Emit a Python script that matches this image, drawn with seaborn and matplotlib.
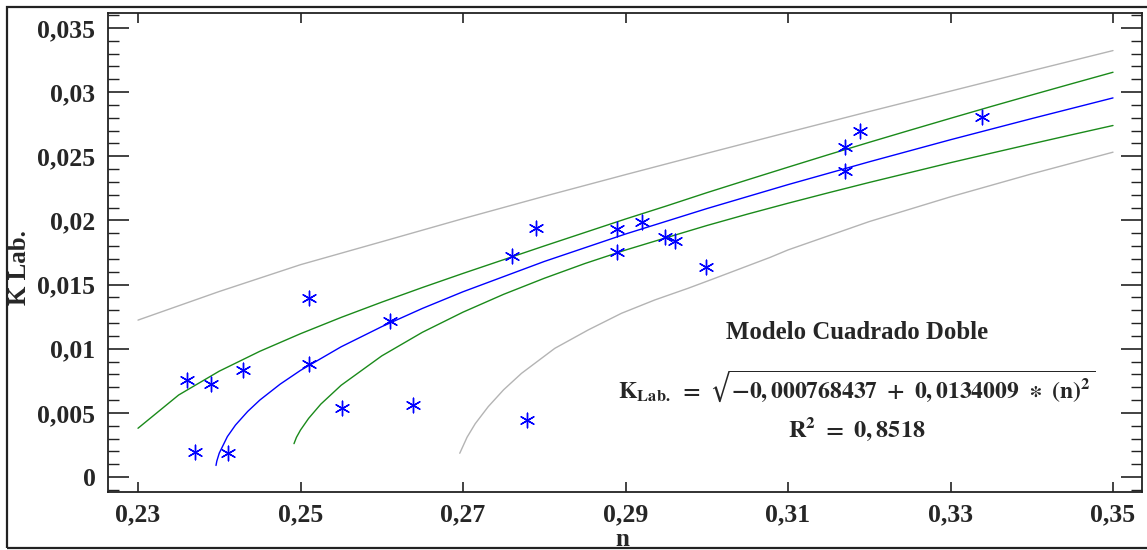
import matplotlib
matplotlib.use("Agg")
import matplotlib.pyplot as plt
import seaborn as sns
import pandas as pd
from matplotlib.ticker import FixedLocator, MultipleLocator, NullLocator
from matplotlib.patches import Rectangle

# ---------------- data ----------------
n_obs = [0.2360, 0.2370, 0.2390, 0.2411, 0.2429, 0.2510, 0.2510, 0.2551,
         0.2610, 0.2638, 0.2760, 0.2779, 0.2790, 0.2890, 0.2890, 0.2920,
         0.2949, 0.2961, 0.2999, 0.3170, 0.3170, 0.3189, 0.3339]
k_obs = [0.00756, 0.00195, 0.00725, 0.00187, 0.00834, 0.01395, 0.00881, 0.00538,
         0.01216, 0.00561, 0.01723, 0.00444, 0.01941, 0.01933, 0.01754, 0.01988,
         0.01871, 0.01840, 0.01637, 0.02385, 0.02572, 0.02697, 0.02806]

# fitted model (blue)
fit_n = [0.2396, 0.2397, 0.2400, 0.2410, 0.2420, 0.2435, 0.2450, 0.2475, 0.2500,
         0.2550, 0.2600, 0.2650, 0.2700, 0.2800, 0.2900, 0.3000, 0.3100,
         0.3200, 0.3300, 0.3400, 0.3500]
fit_k = [0.00090, 0.00124, 0.00186, 0.00315, 0.00405, 0.00511, 0.00600, 0.00724, 0.00831,
         0.01015, 0.01172, 0.01314, 0.01444, 0.01680, 0.01894, 0.02092, 0.02279,
         0.02457, 0.02629, 0.02794, 0.02955]

# confidence limits for the mean (green)
cu_n = [0.230, 0.235, 0.240, 0.245, 0.250, 0.255, 0.260, 0.265, 0.270, 0.275,
        0.280, 0.285, 0.290, 0.295, 0.300, 0.305, 0.310, 0.315, 0.320, 0.325,
        0.330, 0.335, 0.340, 0.345, 0.350]
cu_k = [0.00380, 0.00639, 0.00825, 0.00980, 0.01117, 0.01244, 0.01363, 0.01477,
        0.01587, 0.01694, 0.01801, 0.01906, 0.02011, 0.02112, 0.02216, 0.02316,
        0.02415, 0.02513, 0.02609, 0.02703, 0.02796, 0.02888, 0.02978, 0.03067,
        0.03155]
cl_n = [0.2492, 0.2495, 0.2500, 0.2510, 0.2525, 0.2550, 0.2600, 0.2650, 0.2700,
        0.2750, 0.2800, 0.2850, 0.2900, 0.2950, 0.3000, 0.3050, 0.3100, 0.3150,
        0.3200, 0.3250, 0.3300, 0.3350, 0.3400, 0.3450, 0.3500]
cl_k = [0.00260, 0.00309, 0.00366, 0.00457, 0.00568, 0.00715, 0.00944, 0.01128,
        0.01285, 0.01424, 0.01549, 0.01664, 0.01769, 0.01865, 0.01960, 0.02049,
        0.02134, 0.02216, 0.02296, 0.02373, 0.02450, 0.02524, 0.02597, 0.02669,
        0.02740]

# prediction limits (grey)
pu_n = [0.230, 0.240, 0.250, 0.260, 0.270, 0.280, 0.290, 0.300, 0.310, 0.320,
        0.330, 0.340, 0.350]
pu_k = [0.01223, 0.01446, 0.01655, 0.01834, 0.02014, 0.02188, 0.02357, 0.02523,
        0.02687, 0.02849, 0.03008, 0.03167, 0.03324]
pl_n = [0.2696, 0.2705, 0.2715, 0.2731, 0.2750, 0.2772, 0.2813, 0.2854, 0.2895,
        0.2936, 0.2977, 0.3010, 0.3078, 0.3100, 0.3200, 0.3300, 0.3400, 0.3500]
pl_k = [0.00185, 0.00310, 0.00415, 0.00548, 0.00680, 0.00808, 0.01003, 0.01146,
        0.01276, 0.01380, 0.01471, 0.01549, 0.01712, 0.01770, 0.01991, 0.02184,
        0.02363, 0.02532]

x_ticks = [0.23, 0.25, 0.27, 0.29, 0.31, 0.33, 0.35]
x_tick_labels = ["0,23", "0,25", "0,27", "0,29", "0,31", "0,33", "0,35"]
y_ticks = [0.0, 0.005, 0.01, 0.015, 0.02, 0.025, 0.03, 0.035]
y_tick_labels = ["0", "0,005", "0,01", "0,015", "0,02", "0,025", "0,03", "0,035"]

# ---------------- styling ----------------
sns.set_style("ticks")
plt.rcParams['font.family'] = ['Liberation Serif', 'DejaVu Serif']
plt.rcParams['font.weight'] = 'bold'
plt.rcParams['mathtext.fontset'] = 'stix'

W, H = 1147, 550
fig = plt.figure(figsize=(W / 100, H / 100), dpi=100)
L, R, T, B = 108, 1142, 13, 492
ax = fig.add_axes([L / W, 1 - B / H, (R - L) / W, (B - T) / H])

grey = "#b4b4b4"
green = "#1a8a1a"
blue = "#0000ff"

sns.lineplot(x=pu_n, y=pu_k, ax=ax, color=grey, lw=1.0, sort=False)
sns.lineplot(x=pl_n, y=pl_k, ax=ax, color=grey, lw=1.0, sort=False)
sns.lineplot(x=cu_n, y=cu_k, ax=ax, color=green, lw=1.0, sort=False)
sns.lineplot(x=cl_n, y=cl_k, ax=ax, color=green, lw=1.0, sort=False)
sns.lineplot(x=fit_n, y=fit_k, ax=ax, color=blue, lw=1.0, sort=False)
sns.scatterplot(x=n_obs, y=k_obs, ax=ax, marker=(6, 2, 0), color=blue,
                edgecolor=blue, s=110, linewidth=1.0, zorder=5)

ax.set_xlim(0.23 - 30 / 8125, 0.35 + 29 / 8125)
ax.set_ylim(-15 / 12829, 0.035 + 15 / 12829)

ax.xaxis.set_major_locator(FixedLocator(x_ticks))
ax.set_xticklabels(x_tick_labels)
ax.xaxis.set_minor_locator(NullLocator())
ax.yaxis.set_major_locator(FixedLocator(y_ticks))
ax.set_yticklabels(y_tick_labels)
ax.yaxis.set_minor_locator(MultipleLocator(0.001))

for s in ax.spines.values():
    s.set_linewidth(1.3)
    s.set_color("#222222")

ax.tick_params(axis='x', which='major', direction='in', length=7, width=1.2,
               top=True, bottom=True, labelsize=18.5, pad=8, color="#222222")
ax.tick_params(axis='y', which='major', direction='in', length=15, width=1.2,
               left=True, right=True, labelsize=18.5, pad=9, color="#222222")
ax.tick_params(axis='y', which='minor', direction='in', length=8, width=1.0,
               left=True, right=True, color="#222222")
for lab in ax.get_xticklabels() + ax.get_yticklabels():
    lab.set_fontweight('bold')

ax.set_xlabel("")
ax.set_ylabel("")
fig.text(622 / W, 1 - 539 / H, "n", ha='center', va='center',
         fontsize=18, fontweight='bold')
fig.text(20 / W, 1 - 268 / H, "K Lab.", ha='center', va='center',
         rotation=90, fontsize=18, fontweight='bold')

# model annotations
xc = 0.23 + (857 - 138) / 8125
def ypix(py):
    return (477 - py) / 12829

ax.text(xc, ypix(332), "Modelo Cuadrado Doble", ha='center', va='center',
        fontsize=17.8, fontweight='bold')
ax.text(xc, ypix(386),
        r"$\mathbf{K}_{\mathbf{Lab.}}\ =\ \sqrt{\mathbf{-0,000768437}\ +\ \mathbf{0,0134009}\ \ast\ \mathbf{(n)}^{\mathbf{2}}}$",
        ha='center', va='center', fontsize=17.0)
ax.text(xc, ypix(429), r"$\mathbf{R}^{\mathbf{2}}\ =\ \mathbf{0,8518}$",
        ha='center', va='center', fontsize=17.5)

# outer frame
fig.patches.append(Rectangle((7 / W, 2 / H), (W + 10) / W, (H - 9) / H,
                             transform=fig.transFigure, fill=False,
                             edgecolor="#222222", linewidth=1.6))

fig.savefig("out.png", dpi=100)
